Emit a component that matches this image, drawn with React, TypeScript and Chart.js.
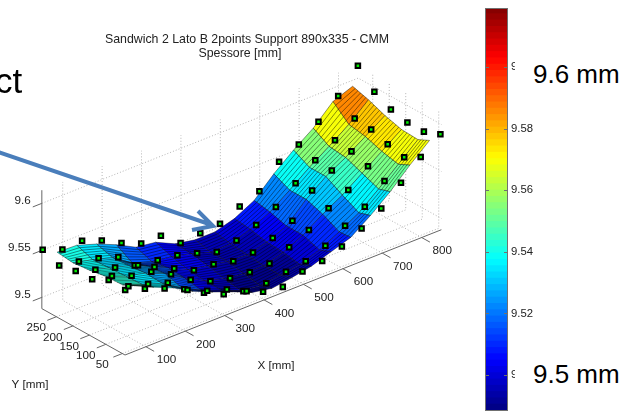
import React, { useEffect, useRef } from "react";
import { Chart, registerables } from "chart.js";

Chart.register(...registerables);

// ---------- axis ticks ----------
const X_TICKS = [100, 200, 300, 400, 500, 600, 700, 800];
const Y_TICKS = [50, 100, 150, 200, 250];
const Z_TICKS = [9.5, 9.55, 9.6];
const COLORBAR_TICKS = [9.5, 9.52, 9.54, 9.56, 9.58, 9.6];

// ---------- measured points (mm) ----------
const POINT_X = [50, 100, 150, 200, 250, 300, 350, 400, 450, 500, 550, 600, 650, 700, 750, 800, 850];
const POINT_Y = [45, 95, 145, 195, 245, 295];
const POINTS_Y45 = [9.556, 9.549, 9.541, 9.532, 9.52, 9.51, 9.505, 9.496, 9.493, 9.501, 9.504, 9.511, 9.522, 9.535, 9.554, 9.573, 9.589];
const POINTS_Y95 = [9.557, 9.542, 9.536, 9.529, 9.513, 9.504, 9.497, 9.487, 9.487, 9.491, 9.494, 9.502, 9.515, 9.527, 9.546, 9.563, 9.582];
const POINTS_Y145 = [9.548, 9.543, 9.535, 9.531, 9.52, 9.506, 9.496, 9.491, 9.489, 9.49, 9.499, 9.509, 9.524, 9.535, 9.552, 9.567, 9.582];
const POINTS_Y195 = [9.547, 9.54, 9.534, 9.528, 9.518, 9.508, 9.498, 9.496, 9.491, 9.492, 9.499, 9.509, 9.533, 9.546, 9.558, 9.573, 9.586];
const POINTS_Y245 = [9.543, 9.539, 9.534, 9.527, 9.51, 9.507, 9.504, 9.498, 9.491, 9.495, 9.503, 9.514, 9.531, 9.547, 9.56, 9.575, 9.595];
const POINTS_Y295 = [9.55, 9.542, 9.543, 9.535, 9.524, 9.515, 9.515, 9.499, 9.501, 9.503, 9.513, 9.521, 9.544, 9.554, 9.57, 9.589, 9.613];
const POINT_ROWS = [POINTS_Y45, POINTS_Y95, POINTS_Y145, POINTS_Y195, POINTS_Y245, POINTS_Y295];

// ---------- fitted surface (mm) ----------
const SURF_X = [85, 135, 185, 235, 285, 335, 385, 435, 485, 535, 585, 635, 685, 735, 785, 835];
const SURF_Y = [60, 95, 145, 195, 245, 293];
const SURF_Y60 = [9.552, 9.542, 9.533, 9.521, 9.512, 9.504, 9.495, 9.491, 9.494, 9.498, 9.505, 9.512, 9.527, 9.544, 9.564, 9.582];
const SURF_Y95 = [9.546, 9.538, 9.531, 9.518, 9.507, 9.499, 9.49, 9.487, 9.49, 9.493, 9.5, 9.511, 9.523, 9.54, 9.558, 9.576];
const SURF_Y145 = [9.545, 9.537, 9.532, 9.523, 9.51, 9.499, 9.493, 9.49, 9.49, 9.496, 9.506, 9.52, 9.532, 9.547, 9.562, 9.577];
const SURF_Y195 = [9.542, 9.536, 9.53, 9.521, 9.511, 9.501, 9.497, 9.493, 9.492, 9.497, 9.506, 9.526, 9.542, 9.554, 9.568, 9.582];
const SURF_Y245 = [9.54, 9.535, 9.529, 9.515, 9.508, 9.505, 9.5, 9.493, 9.494, 9.501, 9.511, 9.526, 9.542, 9.556, 9.571, 9.589];
const SURF_Y293 = [9.542, 9.541, 9.534, 9.525, 9.514, 9.511, 9.501, 9.497, 9.497, 9.503, 9.514, 9.534, 9.551, 9.566, 9.586, 9.594];
const SURF_ROWS = [SURF_Y60, SURF_Y95, SURF_Y145, SURF_Y195, SURF_Y245, SURF_Y293];

// ---------- ranges ----------
const X_RANGE = [47, 850];
const Y_RANGE = [42, 294];
const Z_RANGE = [9.488, 9.614];
const COLOR_RANGE = [9.4883, 9.6192];

// fixed view of the MATLAB axes: maps (X, Y, Z) onto the chart plane
const project = (X: number, Y: number, Z: number) => ({
  x: 125 + (X - 47) * 0.394 - (Y - 42) * 0.33,
  y: 355 - (X - 47) * 0.156 - (Y - 42) * 0.184 - (Z - 9.488) * 940,
});

const clamp = (v: number) => Math.max(0, Math.min(1, v));
const jet = (t: number) => {
  const r = clamp(Math.min(4 * t - 1.5, -4 * t + 4.5));
  const g = clamp(Math.min(4 * t - 0.5, -4 * t + 3.5));
  const b = clamp(Math.min(4 * t + 0.5, -4 * t + 2.5));
  return `rgb(${Math.round(r * 255)},${Math.round(g * 255)},${Math.round(b * 255)})`;
};
const LEVELS = 64;
const jetFor = (z: number) => {
  const t = clamp((z - COLOR_RANGE[0]) / (COLOR_RANGE[1] - COLOR_RANGE[0]));
  return jet((Math.min(LEVELS - 1, Math.floor(t * LEVELS)) + 0.5) / LEVELS);
};

const lineSet = (pts: { x: number; y: number }[], color: string, width: number, dash: number[] = []) => ({
  data: pts,
  showLine: true,
  borderColor: color,
  borderWidth: width,
  borderDash: dash,
  pointRadius: 0,
  fill: false,
  tension: 0,
  clip: false,
});

function buildDatasets() {
  const sets: any[] = [];
  // measured points on top
  const pts: { x: number; y: number }[] = [];
  POINT_ROWS.forEach((row, j) => row.forEach((z, i) => pts.push(project(POINT_X[i], POINT_Y[j], z))));
  sets.push({
    label: "Measured",
    data: pts,
    showLine: false,
    pointStyle: "rect",
    pointRadius: 3.2,
    pointBorderWidth: 2,
    pointBackgroundColor: "#00f000",
    pointBorderColor: "#000000",
    clip: false,
  });
  // surface quads, nearest first (Chart.js paints the last dataset first)
  for (let i = 0; i < SURF_X.length - 1; i++) {
    for (let j = 0; j < SURF_Y.length - 1; j++) {
      const z00 = SURF_ROWS[j][i];
      const z10 = SURF_ROWS[j][i + 1];
      const z11 = SURF_ROWS[j + 1][i + 1];
      const z01 = SURF_ROWS[j + 1][i];
      const a = project(SURF_X[i], SURF_Y[j], z00);
      const b = project(SURF_X[i + 1], SURF_Y[j], z10);
      const c = project(SURF_X[i + 1], SURF_Y[j + 1], z11);
      const d = project(SURF_X[i], SURF_Y[j + 1], z01);
      sets.push({
        data: [a, b, c, d, a],
        showLine: true,
        fill: "shape",
        backgroundColor: jetFor((z00 + z10 + z11 + z01) / 4),
        borderColor: "rgba(0,0,0,0.7)",
        borderWidth: 0.6,
        pointRadius: 0,
        tension: 0,
        clip: false,
        hatch: Math.max(2, Math.round((SURF_Y[j + 1] - SURF_Y[j]) / 8.5)),
      });
    }
  }
  // axes
  const axisColor = "#666666";
  const [x0, x1] = X_RANGE;
  const [y0, y1] = Y_RANGE;
  const [z0, z1] = Z_RANGE;
  sets.push(lineSet([project(x0, y0, z0), project(x1, y0, z0)], axisColor, 1));
  sets.push(lineSet([project(x0, y0, z0), project(x0, y1, z0)], axisColor, 1));
  sets.push(lineSet([project(x0, y1, z0), project(x0, y1, z1)], axisColor, 1));
  X_TICKS.forEach((t) => sets.push(lineSet([project(t, y0, z0), project(t, y0 - 25, z0)], axisColor, 1)));
  Y_TICKS.forEach((t) => sets.push(lineSet([project(x0, t, z0), project(x0 - 23, t, z0)], axisColor, 1)));
  Z_TICKS.forEach((t) => {
    const p = project(x0, y1, t);
    sets.push(lineSet([p, project(x0 - 23, y1, t)], axisColor, 1));
  });
  // dotted grid
  const grid = "#b4b4b4";
  const dash = [1, 2];
  X_TICKS.forEach((t) => {
    sets.push(lineSet([project(t, y0, z0), project(t, y1, z0), project(t, y1, z1)], grid, 1, dash));
  });
  Y_TICKS.forEach((t) => {
    sets.push(lineSet([project(x0, t, z0), project(x1, t, z0), project(x1, t, z1)], grid, 1, dash));
  });
  Z_TICKS.forEach((t) => {
    sets.push(lineSet([project(x0, y1, t), project(x1, y1, t), project(x1, y0, t)], grid, 1, dash));
  });
  return sets;
}

const TEXT = "#222222";
const FONT = '"Liberation Sans", Arial, sans-serif';

const hatchPlugin = {
  id: "hatch",
  afterDatasetDraw(chart: any, args: any) {
    const ds = chart.data.datasets[args.index];
    if (!ds.hatch) return;
    const p = chart.getDatasetMeta(args.index).data;
    const ctx = chart.ctx;
    ctx.save();
    ctx.strokeStyle = "rgba(0,0,0,0.75)";
    ctx.lineWidth = 0.6;
    ctx.beginPath();
    for (let i = 1; i < ds.hatch; i++) {
      const t = i / ds.hatch;
      ctx.moveTo(p[0].x + (p[3].x - p[0].x) * t, p[0].y + (p[3].y - p[0].y) * t);
      ctx.lineTo(p[1].x + (p[2].x - p[1].x) * t, p[1].y + (p[2].y - p[1].y) * t);
    }
    ctx.stroke();
    ctx.restore();
  },
};

const labelsPlugin = {
  id: "labels3d",
  afterDraw(chart: any) {
    const ctx = chart.ctx;
    const sx = chart.scales.x;
    const sy = chart.scales.y;
    const put = (p: { x: number; y: number }, text: string, dx: number, dy: number, align: CanvasTextAlign = "center") => {
      ctx.textAlign = align;
      ctx.fillText(text, sx.getPixelForValue(p.x) + dx, sy.getPixelForValue(p.y) + dy);
    };
    ctx.save();
    ctx.fillStyle = TEXT;
    ctx.textBaseline = "middle";
    ctx.font = `11.7px ${FONT}`;
    X_TICKS.forEach((t) => put(project(t, Y_RANGE[0], Z_RANGE[0]), String(t), 20.5, 13.5));
    Y_TICKS.forEach((t) => put(project(X_RANGE[0], t, Z_RANGE[0]), String(t), -20, 11.5));
    Z_TICKS.forEach((t) => put(project(X_RANGE[0], Y_RANGE[1], t), String(t), -11, -3, "right"));
    ctx.textAlign = "center";
    ctx.fillText("X [mm]", 276, 365.5);
    ctx.fillText("Y [mm]", 30, 384.5);
    ctx.font = `12.35px ${FONT}`;
    ctx.fillText("Sandwich 2 Lato B 2points Support 890x335 - CMM", 247, 39.5);
    ctx.fillText("Spessore [mm]", 240, 53.5);
    // presentation arrow laid over the plot
    ctx.strokeStyle = "#4a7ebb";
    ctx.lineWidth = 4;
    ctx.lineCap = "butt";
    ctx.lineJoin = "miter";
    ctx.beginPath();
    ctx.moveTo(-2, 152);
    ctx.lineTo(212, 225);
    ctx.moveTo(198, 211);
    ctx.lineTo(213, 226);
    ctx.lineTo(192, 230);
    ctx.stroke();
    ctx.restore();
  },
};

const colorbarPlugin = {
  id: "colorbarFrame",
  afterDraw(chart: any) {
    const { left, right, top, bottom } = chart.chartArea;
    const ctx = chart.ctx;
    const y = chart.scales.y;
    ctx.save();
    ctx.strokeStyle = "#707070";
    ctx.lineWidth = 1;
    ctx.strokeRect(left + 0.5, top + 0.5, right - left - 1, bottom - top - 1);
    ctx.beginPath();
    COLORBAR_TICKS.forEach((t) => {
      const p = Math.round(y.getPixelForValue(t)) + 0.5;
      ctx.moveTo(left, p);
      ctx.lineTo(left + 4, p);
      ctx.moveTo(right - 4, p);
      ctx.lineTo(right, p);
    });
    ctx.stroke();
    ctx.restore();
  },
};

function buildBarSets() {
  const step = (COLOR_RANGE[1] - COLOR_RANGE[0]) / LEVELS;
  const sets: any[] = [];
  for (let i = 0; i < LEVELS; i++) {
    sets.push({
      data: [[COLOR_RANGE[0] + i * step, COLOR_RANGE[0] + (i + 1) * step + step * 0.1]],
      backgroundColor: jet((i + 0.5) / LEVELS),
      borderWidth: 0,
      grouped: false,
      barPercentage: 1,
      categoryPercentage: 1,
    });
  }
  return sets;
}

const abs = (left: number, top: number, size: number): React.CSSProperties => ({
  position: "absolute",
  left,
  top,
  fontFamily: FONT,
  fontSize: size,
  lineHeight: 1,
  color: "#000",
  whiteSpace: "nowrap",
});

export default function App() {
  const mainRef = useRef<HTMLCanvasElement>(null);
  const barRef = useRef<HTMLCanvasElement>(null);

  useEffect(() => {
    const main = new Chart(mainRef.current!, {
      type: "scatter",
      data: { datasets: buildDatasets() },
      options: {
        animation: false,
        responsive: false,
        layout: { padding: 0, autoPadding: false },
        plugins: { legend: { display: false }, title: { display: false }, tooltip: { enabled: false } },
        events: [],
        scales: {
          x: { type: "linear", min: 0, max: 623, display: false },
          y: { type: "linear", min: 0, max: 411, reverse: true, display: false },
        },
      },
      plugins: [hatchPlugin, labelsPlugin],
    } as any);
    const bar = new Chart(barRef.current!, {
      type: "bar",
      data: { labels: ["Spessore"], datasets: buildBarSets() },
      options: {
        animation: false,
        responsive: false,
        layout: { padding: { top: 8, bottom: 0, left: 0, right: 0 }, autoPadding: false },
        plugins: { legend: { display: false }, title: { display: false }, tooltip: { enabled: false } },
        events: [],
        scales: {
          x: { display: false },
          y: {
            position: "right",
            min: COLOR_RANGE[0],
            max: COLOR_RANGE[1],
            afterBuildTicks: (s: any) => {
              s.ticks = COLORBAR_TICKS.map((value) => ({ value }));
            },
            afterFit: (s: any) => {
              s.width = 37;
              s.paddingTop = 0;
              s.paddingBottom = 0;
            },
            grid: { drawOnChartArea: false, drawTicks: false },
            border: { display: false },
            ticks: {
              padding: 3,
              color: TEXT,
              font: { family: FONT, size: 11.3 },
              callback: (v: any) => (Number(v) === 9.5 || Number(v) === 9.6 ? Number(v).toFixed(1) : Number(v).toFixed(2)),
            },
          },
        },
      },
      plugins: [colorbarPlugin],
    } as any);
    return () => {
      main.destroy();
      bar.destroy();
    };
  }, []);

  return (
    <div style={{ position: "fixed", left: 0, top: 0, width: 623, height: 411, overflow: "hidden", background: "#fff" }}>
      <canvas ref={mainRef} width={623} height={411} style={{ position: "absolute", left: 0, top: 0, display: "block" }} />
      <canvas ref={barRef} width={60} height={411} style={{ position: "absolute", left: 485, top: 0, display: "block" }} />
      <div style={{ position: "absolute", left: 515, top: 55, width: 108, height: 36, background: "#fff" }} />
      <div style={{ position: "absolute", left: 515, top: 358, width: 108, height: 34, background: "#fff" }} />
      <div style={abs(-5, 63, 35)}>ct</div>
      <div style={abs(533, 61, 26)}>9.6 mm</div>
      <div style={abs(533, 361, 26)}>9.5 mm</div>
    </div>
  );
}
